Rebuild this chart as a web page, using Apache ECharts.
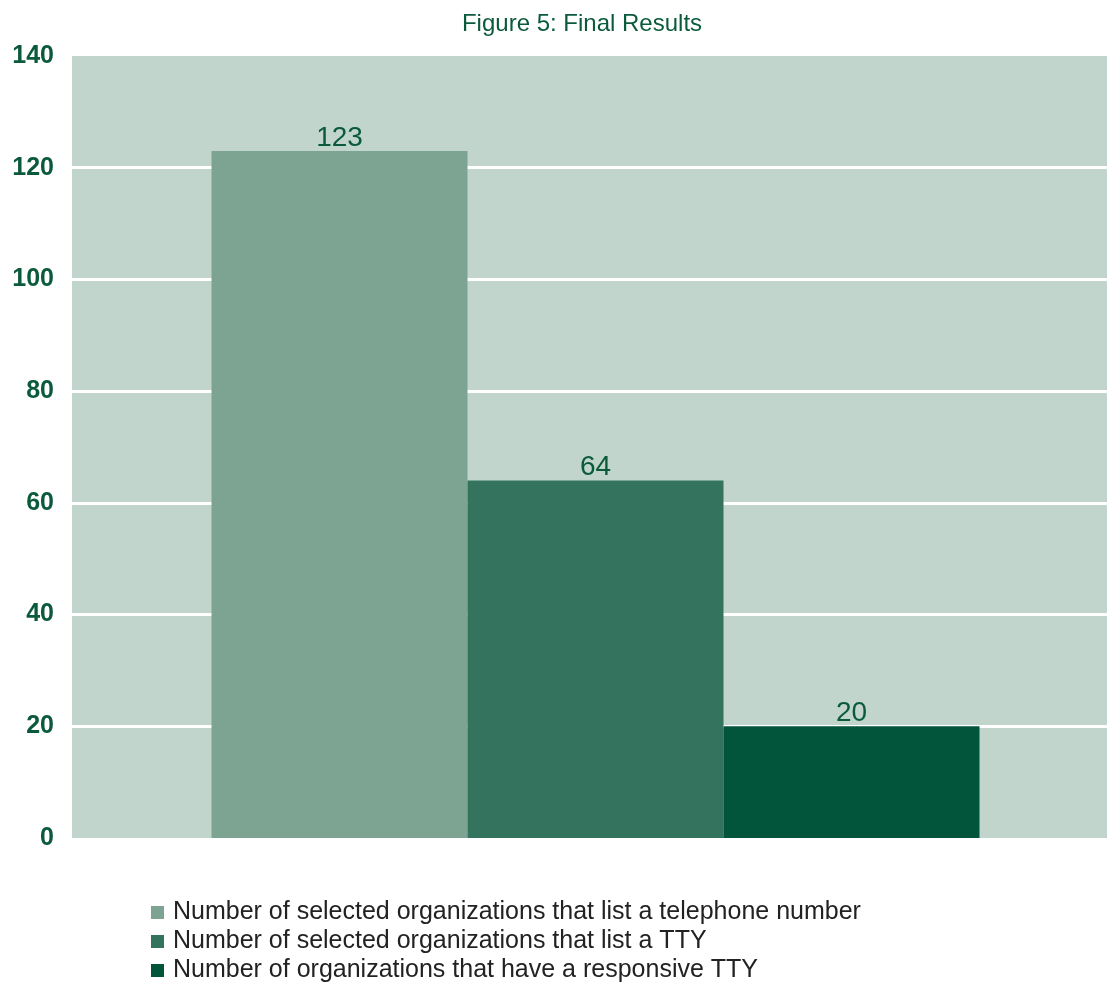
<!DOCTYPE html>
<html>
<head>
<meta charset="utf-8">
<script src="https://cdn.jsdelivr.net/npm/echarts@6/dist/echarts.min.js"></script>
<style>
  html, body { margin: 0; padding: 0; background: #fff; }
  #chart { width: 1107px; height: 982px; }
</style>
</head>
<body>
<div id="chart"></div>
<script>
  var categories = ['Final Results'];
  var seriesNames = [
    'Number of selected organizations that list a telephone number',
    'Number of selected organizations that list a TTY',
    'Number of organizations that have a responsive TTY'
  ];
  var seriesValues = [[123], [64], [20]];
  var yTicks = { min: 0, max: 140, step: 20 };
  var barColors = ['#7da393', '#34745e', '#02553b'];

  var textColor = '#0b5a3c';
  var textFont = '"Liberation Sans", Arial, sans-serif';

  var chart = echarts.init(document.getElementById('chart'));

  var series = seriesNames.map(function (name, i) {
    return {
      name: name,
      type: 'bar',
      xAxisIndex: 1,
      yAxisIndex: 1,
      barWidth: 256,
      barGap: '0%',
      itemStyle: { color: barColors[i] },
      label: {
        show: true,
        position: 'top',
        distance: -1,
        color: textColor,
        fontSize: 28,
        fontFamily: textFont
      },
      data: seriesValues[i]
    };
  });

  chart.setOption({
    animation: false,
    title: {
      text: 'Figure 5: Final Results',
      left: 577,
      textAlign: 'center',
      top: 7,
      textStyle: {
        color: textColor,
        fontSize: 24,
        fontWeight: 'normal',
        fontFamily: textFont
      }
    },
    legend: {
      orient: 'vertical',
      left: 151,
      top: 899,
      height: 120,
      padding: 0,
      itemWidth: 13,
      itemHeight: 13,
      itemGap: 2,
      icon: 'rect',
      textStyle: {
        color: '#222',
        fontSize: 25,
        lineHeight: 27,
        fontFamily: textFont,
        padding: [0, 0, 0, 4]
      },
      data: seriesNames
    },
    // grid 0: background, gridlines and tick labels; grid 1: the bars
    grid: [{
      left: 72,
      right: 0,
      top: 56,
      bottom: 144,
      show: true,
      backgroundColor: '#c1d5cc',
      borderWidth: 0
    }, {
      left: 84,
      right: 0,
      top: 56,
      bottom: 144
    }],
    xAxis: [{
      gridIndex: 0,
      type: 'category',
      data: categories,
      show: false
    }, {
      gridIndex: 1,
      type: 'category',
      data: categories,
      show: false
    }],
    yAxis: [{
      gridIndex: 0,
      type: 'value',
      min: yTicks.min,
      max: yTicks.max,
      interval: yTicks.step,
      axisLine: { show: false },
      axisTick: { show: false },
      axisLabel: {
        color: textColor,
        fontSize: 25,
        fontWeight: 'bold',
        fontFamily: textFont,
        margin: 18
      },
      splitLine: {
        show: true,
        showMinLine: false,
        showMaxLine: false,
        lineStyle: { color: '#ffffff', width: 3 }
      }
    }, {
      gridIndex: 1,
      type: 'value',
      min: yTicks.min,
      max: yTicks.max,
      interval: yTicks.step,
      show: false,
      splitLine: { show: false }
    }],
    series: series
  });
</script>
</body>
</html>
